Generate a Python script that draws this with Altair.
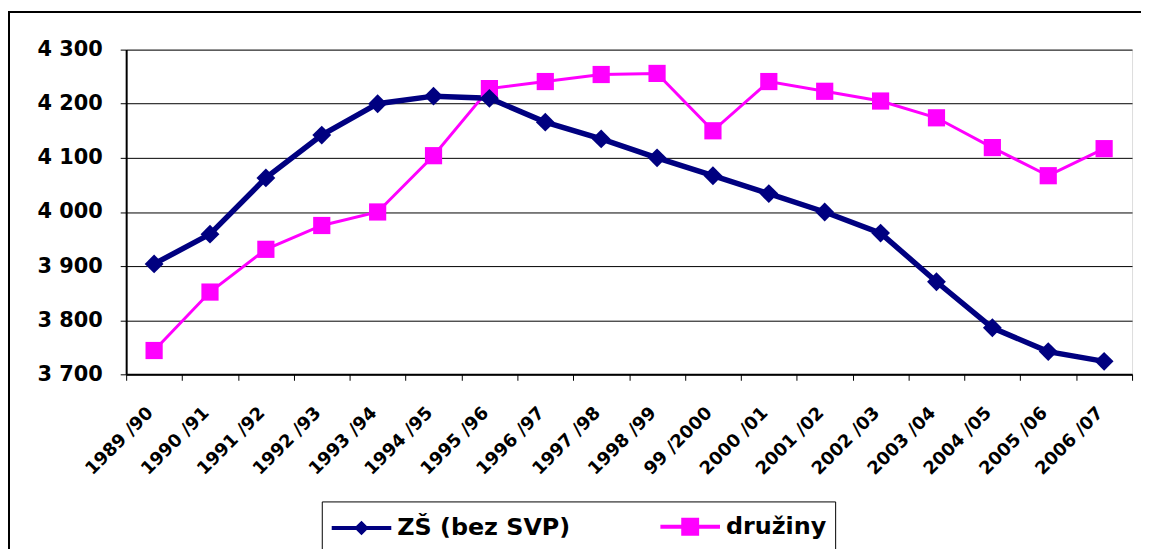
import altair as alt
import pandas as pd

categories = ["1989 /90", "1990 /91", "1991 /92", "1992 /93", "1993 /94", "1994 /95",
              "1995 /96", "1996 /97", "1997 /98", "1998 /99", "99 /2000", "2000 /01",
              "2001 /02", "2002 /03", "2003 /04", "2004 /05", "2005 /06", "2006 /07"]
zs_values = [3904, 3959, 4063, 4142, 4200, 4214, 4210, 4166, 4135, 4100, 4067, 4034,
             4000, 3961, 3871, 3786, 3742, 3724]
druziny_values = [3744, 3852, 3931, 3975, 4000, 4104, 4228, 4241, 4254, 4256, 4150, 4241,
                  4223, 4205, 4174, 4119, 4067, 4117]
series_names = ["ZŠ (bez SVP)", "družiny"]
series_colors = ["#000080", "#FF00FF"]
y_ticks = [3700, 3800, 3900, 4000, 4100, 4200, 4300]

rows = []
for c, v in zip(categories, zs_values):
    rows.append({"cat": c, "value": v, "series": series_names[0]})
for c, v in zip(categories, druziny_values):
    rows.append({"cat": c, "value": v, "series": series_names[1]})
df = pd.DataFrame(rows)

FONT = "DejaVu Sans"

color_scale = alt.Scale(domain=series_names, range=series_colors)


def diamond_glyph(ds):
    p = "M-1,0H3"
    for d in ds:
        p += f"M{1 - d:.3f},0L1,{-d:.3f}L{1 + d:.3f},0L1,{d:.3f}Z"
    return p


def square_glyph(hs):
    p = "M-1,0H3"
    for h in hs:
        p += f"M{1 - h:.3f},{-h:.3f}H{1 + h:.3f}V{h:.3f}H{1 - h:.3f}Z"
    return p


# legend glyphs: a line stub with a (stroke-filled) diamond / square marker
legend_shapes = [diamond_glyph([0.3, 0.2, 0.067]), square_glyph([0.467, 0.267, 0.1])]

x_enc = alt.X("cat:N", sort=categories,
              scale=alt.Scale(paddingInner=0, paddingOuter=0),
              axis=alt.Axis(title=None, labelAngle=-45, labelAlign="right",
                            labelBaseline="middle", labelPadding=30, labelOffset=-4,
                            labelFont=FONT, labelFontSize=18, labelFontWeight="bold",
                            labelColor="black", tickBand="extent", tickSize=6,
                            tickColor="black", domainColor="black", domainWidth=2,
                            grid=False))
y_enc = alt.Y("value:Q", scale=alt.Scale(domain=[3700, 4300], nice=False, zero=False),
              axis=alt.Axis(title=None, values=y_ticks,
                            labelExpr="replace(format(datum.value, ',d'), ',', ' ')",
                            labelFont=FONT, labelFontSize=21, labelFontWeight="bold",
                            labelColor="black", labelPadding=18, tickSize=6,
                            tickColor="black", domainColor="black", domainWidth=2,
                            grid=True, gridColor="#000000", gridWidth=1))

zs_f = alt.datum.series == series_names[0]
dr_f = alt.datum.series == series_names[1]

base = alt.Chart(df).encode(x=x_enc, y=y_enc)

line_zs = base.transform_filter(zs_f).mark_line(strokeWidth=5.5, color=series_colors[0])
line_dr = base.transform_filter(dr_f).mark_line(strokeWidth=3, color=series_colors[1])
pt_zs = base.transform_filter(zs_f).mark_point(shape="diamond", size=360, filled=True,
                                               opacity=1, color=series_colors[0])
pt_dr = base.transform_filter(dr_f).mark_point(shape="square", size=300, filled=True,
                                               opacity=1, color=series_colors[1])

leg = alt.Legend(title=None, orient="none", legendX=197, legendY=455,
                 direction="horizontal", symbolSize=900, symbolStrokeWidth=4,
                 symbolOpacity=1,
                 labelFont=FONT, labelFontSize=24,
                 labelFontWeight="bold", labelColor="black", labelOffset=34,
                 columnPadding=82, padding=8, strokeColor="black",
                 labelLimit=400)
legend_layer = alt.Chart(df).mark_point(filled=False, size=0, opacity=1).encode(
    x=alt.X("cat:N", sort=categories),
    y=alt.Y("value:Q"),
    color=alt.Color("series:N", scale=color_scale, legend=leg),
    shape=alt.Shape("series:N", scale=alt.Scale(domain=series_names, range=legend_shapes), legend=leg),
)

outer_left = alt.Chart(df).mark_rule(color="black", strokeWidth=1.5).encode(
    x=alt.value(-118.5), y=alt.value(-38), y2=alt.value(520))
outer_top = alt.Chart(df).mark_rule(color="black", strokeWidth=1.5).encode(
    x=alt.value(-118.5), x2=alt.value(1040), y=alt.value(-38))

chart = alt.layer(outer_left, outer_top, line_dr, line_zs, pt_dr, pt_zs, legend_layer).properties(
    width=1013, height=327,
    autosize=alt.AutoSizeParams(type="none"),
    padding={"left": 119, "top": 40, "right": 9, "bottom": 174},
).configure_view(stroke="#808080", strokeWidth=2).configure(background="white")

chart.save("out.html", embed_options={"renderer": "svg", "actions": False})
